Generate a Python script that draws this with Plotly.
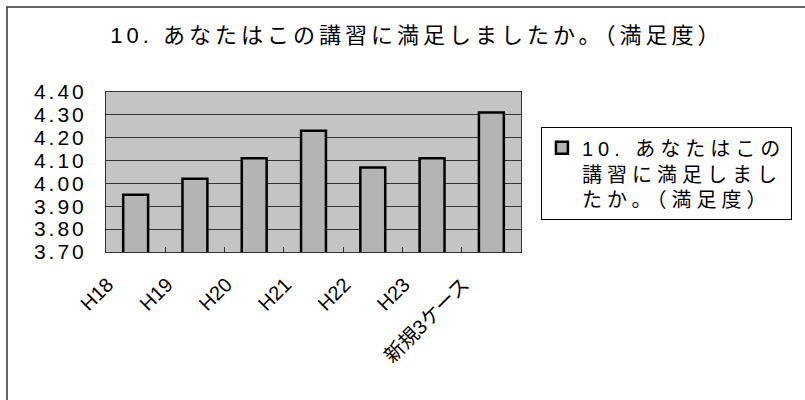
import plotly.graph_objects as go

categories = ["H18", "H19", "H20", "H21", "H22", "H23", "新規3ケース"]
values = [3.95, 4.02, 4.11, 4.23, 4.07, 4.11, 4.31]
series_lines = ["10. あなたはこの", "講習に満足しまし", "たか。（満足度）"]
title_text = "10. あなたはこの講習に満足しましたか。（満足度）"
y_ticks = [3.70, 3.80, 3.90, 4.00, 4.10, 4.20, 4.30, 4.40]

FONT = "Liberation Sans, Arial, Noto Sans CJK JP, sans-serif"


def spaced(s, px):
    return f'<span style="letter-spacing:{px}px">{s}</span>'


series_name = "<br>".join(spaced(s, 5) for s in series_lines)

fig = go.Figure()
fig.add_trace(go.Bar(
    x=categories, y=values, name=series_name,
    marker=dict(color="#b4b4b4", line=dict(color="#000000", width=2.5)),
    showlegend=True,
))

fig.update_layout(
    width=805, height=400,
    margin=dict(l=106, r=284, t=92, b=148),
    paper_bgcolor="white",
    plot_bgcolor="#c4c4c4",
    bargap=0.58,
    font=dict(family=FONT, color="#000000"),
    title=dict(text=spaced(title_text, 4), x=417 / 805, xref="container",
               xanchor="center", y=1 - 35 / 400, yref="container",
               yanchor="middle", font=dict(size=22, family=FONT)),
    legend=dict(x=1.048, y=0.78, xanchor="left", yanchor="top",
                valign="top", bordercolor="#000000", borderwidth=1,
                bgcolor="white", font=dict(size=20, family=FONT),
                itemwidth=30),
    xaxis=dict(
        tickangle=-45, tickfont=dict(size=20), ticks="inside", ticklen=5,
        tickson="boundaries", tickcolor="#333333",
        ticklabelshift=-28, ticklabelstandoff=12,
        showline=True, linecolor="#333333", linewidth=1, mirror=True,
        showgrid=False,
    ),
    yaxis=dict(
        range=[3.70, 4.40], tickvals=y_ticks,
        ticktext=[spaced(f"{v:.2f}", 3) for v in y_ticks],
        tickfont=dict(size=21), ticks="", ticklabelstandoff=14,
        showgrid=True, gridcolor="#333333", gridwidth=1,
        showline=True, linecolor="#333333", linewidth=1, mirror=True,
        zeroline=False,
    ),
)

# outer chart border (extends past the right/bottom edge, as in the reference)
fig.add_shape(type="rect", xref="paper", yref="paper",
              x0=(7 - 106) / 415, x1=(820 - 106) / 415,
              y0=(252 - 420) / 160, y1=(252 - 7) / 160,
              line=dict(color="#333333", width=1.5), layer="below")

fig.write_html("out.html")
